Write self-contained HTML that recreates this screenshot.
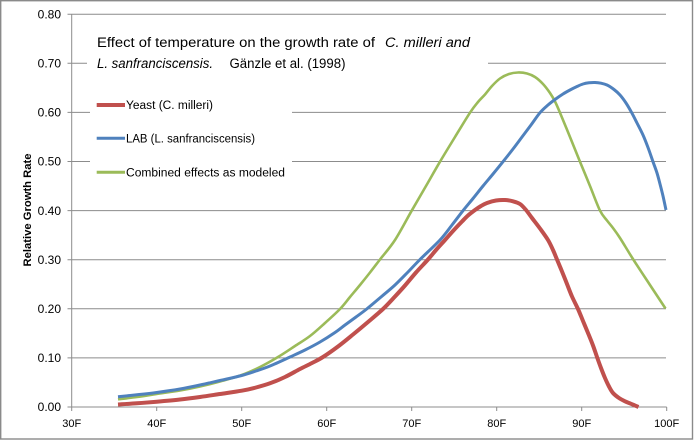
<!DOCTYPE html>
<html><head><meta charset="utf-8"><style>
html,body{margin:0;padding:0;background:#fff;}
svg{display:block;}
text{font-family:"Liberation Sans",sans-serif;fill:#000;}
</style></head><body>
<svg id="chart" width="694" height="441" viewBox="0 0 694 441" xmlns="http://www.w3.org/2000/svg">
<rect x="0" y="0" width="694" height="441" fill="#fff"/>
<rect x="0.7" y="0.7" width="691.8" height="438.3" fill="none" stroke="#8a8a8a" stroke-width="1.4"/>
<g stroke="#8c8c8c" stroke-width="1" fill="none">
<line x1="67.5" y1="14.2" x2="666" y2="14.2"/>
<line x1="67.5" y1="63.3" x2="87" y2="63.3"/><line x1="488" y1="63.3" x2="666" y2="63.3"/>
<line x1="67.5" y1="112.4" x2="90" y2="112.4"/><line x1="292" y1="112.4" x2="666" y2="112.4"/>
<line x1="67.5" y1="161.5" x2="90" y2="161.5"/><line x1="292" y1="161.5" x2="666" y2="161.5"/>
<line x1="67.5" y1="210.6" x2="666" y2="210.6"/>
<line x1="67.5" y1="259.7" x2="666" y2="259.7"/>
<line x1="67.5" y1="308.8" x2="666" y2="308.8"/>
<line x1="67.5" y1="357.9" x2="666" y2="357.9"/>
<line x1="67.5" y1="407" x2="666.7" y2="407"/>
<line x1="71.7" y1="14.2" x2="71.7" y2="411"/>
<line x1="156.7" y1="407" x2="156.7" y2="411"/>
<line x1="241.7" y1="407" x2="241.7" y2="411"/>
<line x1="326.7" y1="407" x2="326.7" y2="411"/>
<line x1="411.7" y1="407" x2="411.7" y2="411"/>
<line x1="496.7" y1="407" x2="496.7" y2="411"/>
<line x1="581.7" y1="407" x2="581.7" y2="411"/>
<line x1="666.7" y1="407" x2="666.7" y2="411"/>
</g>
<g font-size="12" text-anchor="end">
<text x="61" y="18.4">0.80</text>
<text x="61" y="67.5">0.70</text>
<text x="61" y="116.6">0.60</text>
<text x="61" y="165.7">0.50</text>
<text x="61" y="214.8">0.40</text>
<text x="61" y="263.9">0.30</text>
<text x="61" y="313">0.20</text>
<text x="61" y="362.1">0.10</text>
<text x="61" y="411.2">0.00</text>
</g>
<g font-size="11" text-anchor="middle">
<text x="71.7" y="427">30F</text>
<text x="156.7" y="427">40F</text>
<text x="241.7" y="427">50F</text>
<text x="326.7" y="427">60F</text>
<text x="411.7" y="427">70F</text>
<text x="496.7" y="427">80F</text>
<text x="581.7" y="427">90F</text>
<text x="666.7" y="427">100F</text>
</g>
<text transform="translate(31,210) rotate(-90)" font-size="11" font-weight="bold" text-anchor="middle" textLength="113" lengthAdjust="spacingAndGlyphs">Relative Growth Rate</text>
<g font-size="13.5">
<text x="97" y="47" textLength="278" lengthAdjust="spacingAndGlyphs">Effect of temperature  on the growth rate of</text>
<text x="385" y="47" font-style="italic" textLength="85" lengthAdjust="spacingAndGlyphs">C. milleri and</text>
<text x="97" y="68" font-style="italic" textLength="116" lengthAdjust="spacingAndGlyphs">L. sanfranciscensis.</text>
<text x="229.5" y="68" textLength="116" lengthAdjust="spacingAndGlyphs">Gänzle et al. (1998)</text>
</g>
<line x1="96.7" y1="105" x2="125" y2="105" stroke="#C0504D" stroke-width="4"/>
<line x1="96.7" y1="138.3" x2="125" y2="138.3" stroke="#4F81BD" stroke-width="3"/>
<line x1="96.7" y1="172.3" x2="125" y2="172.3" stroke="#9BBB59" stroke-width="3"/>
<g font-size="11.5">
<text x="126" y="109.2" textLength="87" lengthAdjust="spacingAndGlyphs">Yeast (C. milleri)</text>
<text x="126" y="142.5" textLength="129" lengthAdjust="spacingAndGlyphs">LAB (L. sanfranciscensis)</text>
<text x="126" y="176.5" textLength="159" lengthAdjust="spacingAndGlyphs">Combined effects as modeled</text>
</g>
<g fill="none" stroke-linejoin="round" stroke-linecap="butt">
<polyline class="cv" stroke="#9BBB59" stroke-width="2.6" points="118,399.3 137,397 156.7,394 180,390.5 200,386.5 220,381.5 241.7,375 260,367 278,357 295,346 310,336 325,323 340,309 350,297 360,285 370,272.5 380,259.5 395,240 411.7,210.7 426,186 440,161.7 455,137 470,112.7 478,102 485,94.5 492,86 500,78.5 509,74 518,72.5 527,73.5 535,77 543,84 550,93 555,101.5 560,112.7 570,137 580,161.7 590,186 600,210.6 607,220.5 613,228 620,238 633.3,259.5 650,285 665.5,308.5"/>
<polyline class="cv" stroke="#4F81BD" stroke-width="3" points="118,396.7 137,394.8 156.7,392.5 180,389 200,385 220,380.5 241.7,375.5 256,371 270,366 290,357 305,350 320,342 335,332.5 345,325 356,317 366.7,309 381,297 395,285 408,272 420,259.5 440,240 452,225 463,210.7 473,198.5 483,186 493,174 503,161.7 513,149 522,137 531,125 540,112.7 548,105 555,99.5 563,94 570,90 577,86.5 583,84 589,82.8 595,82.5 601,83.2 607,85 614,89.5 620,95 626,103 631.7,112.7 637,123 643,135 648,147.5 653,161.7 657,173 660,184 663,196 666,210"/>
<polyline class="cv" stroke="#C0504D" stroke-width="4" points="118,404.5 137,403.3 156.7,401.7 180,399.5 200,397 220,394 241.7,390.7 256,387.5 270,383.3 285,377 300,369 312,363 323,357 338,346.5 353,334.5 368,322 383,309 395,296.5 405,285.5 416,272.5 428,259.5 436,250 445,240 453,231 462,221.5 468,215.5 475,210 481,206 487,203 496,200.5 505,200 513,201.3 520,204 526,210 532,218 540,228.5 548,240 553,250 557,259.5 562,271.5 567,284 572,296.5 578,309 583,321 588,333 593,345.5 597,357 601,368 605,378 609,386.5 613,393 619,398 625,401.3 631,403.8 638.5,407"/>
</g>
</svg>
<script>
(function(){
try{
var ns="http://www.w3.org/2000/svg";
var pls=document.querySelectorAll("polyline.cv");
for(var k=0;k<pls.length;k++){
var pl=pls[k];
var pts=pl.getAttribute("points").trim().split(/\s+/).map(function(s){var a=s.split(",");return [parseFloat(a[0]),parseFloat(a[1])];});
var n=pts.length;
var d="M"+pts[0][0]+","+pts[0][1];
for(var i=0;i<n-1;i++){
var p0=pts[i>0?i-1:0],p1=pts[i],p2=pts[i+1],p3=pts[i+2<n?i+2:n-1];
var c1x=p1[0]+(p2[0]-p0[0])/6,c1y=p1[1]+(p2[1]-p0[1])/6;
var c2x=p2[0]-(p3[0]-p1[0])/6,c2y=p2[1]-(p3[1]-p1[1])/6;
d+=" C"+c1x.toFixed(2)+","+c1y.toFixed(2)+" "+c2x.toFixed(2)+","+c2y.toFixed(2)+" "+p2[0]+","+p2[1];
}
var path=document.createElementNS(ns,"path");
path.setAttribute("d",d);
path.setAttribute("stroke",pl.getAttribute("stroke"));
path.setAttribute("stroke-width",pl.getAttribute("stroke-width"));
path.setAttribute("fill","none");
path.setAttribute("stroke-linejoin","round");
pl.parentNode.replaceChild(path,pl);
}
}catch(e){}
})();
</script>
</body></html>
